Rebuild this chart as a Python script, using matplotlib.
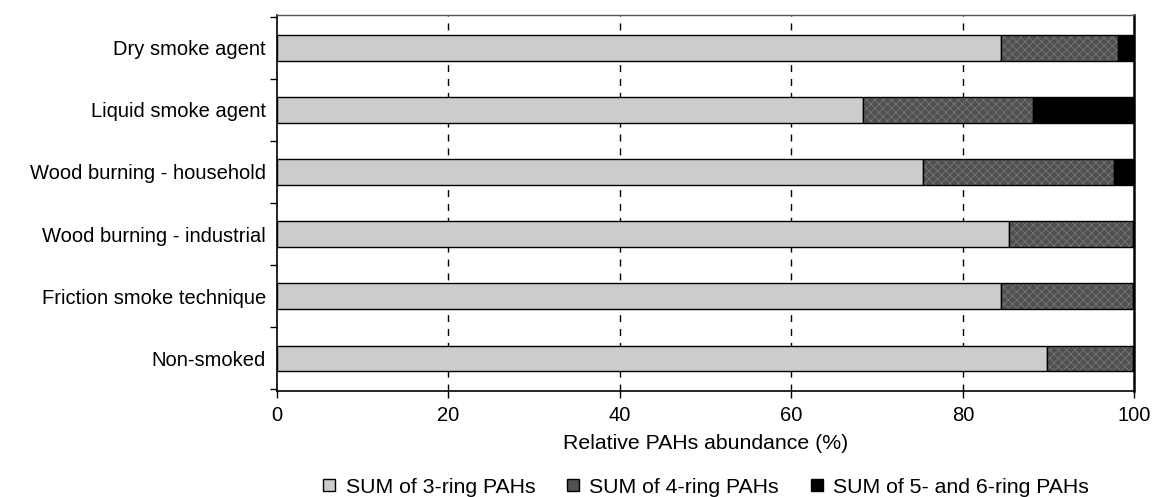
import matplotlib

matplotlib.use("Agg")
import matplotlib.pyplot as plt
from matplotlib.patches import Patch
import numpy as np

plt.rcParams["font.family"] = ["Liberation Sans", "DejaVu Sans"]
plt.rcParams["hatch.linewidth"] = 0.7

categories = [
    "Dry smoke agent",
    "Liquid smoke agent",
    "Wood burning - household",
    "Wood burning - industrial",
    "Friction smoke technique",
    "Non-smoked",
]
ring3 = [84.4, 68.4, 75.3, 85.4, 84.5, 89.8]
ring4 = [13.7, 19.8, 22.3, 14.4, 15.3, 10.0]
ring56 = [1.9, 11.8, 2.4, 0.2, 0.2, 0.2]
series_labels = ["SUM of 3-ring PAHs", "SUM of 4-ring PAHs", "SUM of 5- and 6-ring PAHs"]

FS = 14.5
FS_BIG = 15.3

fig = plt.figure(figsize=(11.54, 4.97), dpi=100)
ax = fig.add_axes([0.240, 0.213, 0.743, 0.757])

y = np.arange(len(categories))
h = 0.41

ax.barh(y, ring3, height=h, color="#cccccc", edgecolor="black", linewidth=1.0, zorder=3)
left2 = np.array(ring3)
# 4-ring: dark fill with faint cross hatch, then black outline on top
ax.barh(y, ring4, left=left2, height=h, color="#505050", edgecolor="#727272",
        linewidth=0, hatch="xxxx", zorder=3)
ax.barh(y, ring4, left=left2, height=h, fill=False, edgecolor="black", linewidth=1.0, zorder=4)
left3 = left2 + np.array(ring4)
ax.barh(y, ring56, left=left3, height=h, color="black", edgecolor="black", linewidth=1.0, zorder=3)

ax.set_xlim(0, 100)
ax.set_ylim(len(categories) - 0.47, -0.53)
ax.set_xticks([0, 20, 40, 60, 80, 100])
ax.set_yticks(y)
ax.set_yticklabels(categories)
ax.set_yticks(np.arange(-0.5, len(categories), 1.0), minor=True)
ax.tick_params(axis="y", which="major", length=0, pad=8, labelsize=FS)
ax.tick_params(axis="y", which="minor", length=5, width=1.0)
ax.tick_params(axis="x", length=5, width=1.0, labelsize=FS, pad=6)
ax.set_xlabel("Relative PAHs abundance (%)", fontsize=FS_BIG, labelpad=6)

for gx in [20, 40, 60, 80]:
    ax.axvline(gx, color="black", linestyle=(0, (5, 5)), linewidth=1.0, zorder=1)

for side in ["left", "bottom"]:
    ax.spines[side].set_linewidth(1.2)
ax.spines["top"].set_color("#555555")
ax.spines["top"].set_linewidth(1.0)
ax.spines["right"].set_linewidth(1.8)

handles = [
    Patch(facecolor="#cccccc", edgecolor="black", linewidth=1.0),
    Patch(facecolor="#505050", edgecolor="black", linewidth=1.0),
    Patch(facecolor="black", edgecolor="black", linewidth=1.0),
]
fig.legend(handles=handles, labels=series_labels, loc="center",
           bbox_to_anchor=(0.612, 0.02), ncol=3, frameon=False, fontsize=FS_BIG,
           handlelength=0.55, handleheight=0.55, handletextpad=0.5, columnspacing=1.5,
           borderpad=0)

fig.savefig("out.png", dpi=100)
